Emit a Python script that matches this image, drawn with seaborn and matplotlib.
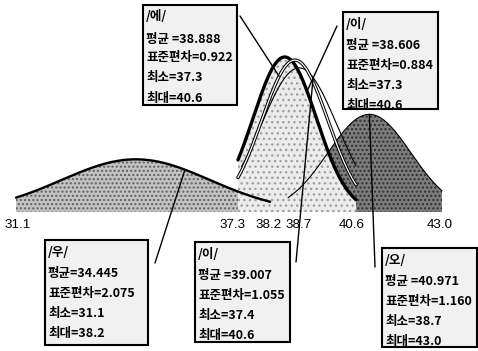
import numpy as np
import pandas as pd
import matplotlib
matplotlib.use("Agg")
import matplotlib.pyplot as plt
import seaborn as sns
from matplotlib.patches import Rectangle
from matplotlib import font_manager

# Vowel statistics (frequency values)
headers = ["/에/", "/이/", "/우/", "/이/", "/오/"]
keys = ["e", "i", "u", "eu", "o"]
means = [38.888, 38.606, 34.445, 39.007, 40.971]
sds = [0.922, 0.884, 2.075, 1.055, 1.160]
mins = [37.3, 37.3, 31.1, 37.4, 38.7]
maxs = [40.6, 40.6, 38.2, 40.6, 43.0]
peaks = [0.98, 1.0, 0.34, 0.93, 0.63]
tick_values = [31.1, 37.3, 38.2, 38.7, 40.6, 43.0]
tick_labels = ["31.1", "37.3", "38.2", "38.7", "40.6", "43.0"]

W, H = 478, 351
sns.set_theme(style="white")
plt.rcParams["font.family"] = ["Noto Sans CJK KR", "DejaVu Sans"]

installed = {f.name for f in font_manager.fontManager.ttflist}
num_family = ["Liberation Sans Narrow"] if "Liberation Sans Narrow" in installed else ["Liberation Sans"]

# Normal-shaped curve for each vowel, truncated at its min and max
rows = []
for k, m, s, lo, hi, pk in zip(keys, means, sds, mins, maxs, peaks):
    xs = np.linspace(lo, hi, 400)
    ys = pk * np.exp(-0.5 * ((xs - m) / s) ** 2)
    rows.append(pd.DataFrame({"vowel": k, "x": xs, "y": ys}))
df = pd.concat(rows, ignore_index=True)


def curve_y(k, x):
    i = keys.index(k)
    return peaks[i] * np.exp(-0.5 * ((x - means[i]) / sds[i]) ** 2)


fig = plt.figure(figsize=(W / 100, H / 100), dpi=100)
ax = fig.add_axes([0, 0, 1, 1])
px_per_unit = 35.8
x0 = 31.1 - 16 / px_per_unit
unit_px = 155.0


def fig_xy(px, py):
    return px / W, 1 - py / H


# Fills
fill_style = {
    "u": dict(facecolor="#c2c2c2", edgecolor="#5e5e5e", hatch="....", z=1),
    "o": dict(facecolor="#7c7c7c", edgecolor="#2e2e2e", hatch="....", z=2),
    "i": dict(facecolor="#ececec", edgecolor="#a0a0a0", hatch="...", z=3),
}
for k, st in fill_style.items():
    d = df[df.vowel == k]
    ax.fill_between(d.x, 0, d.y, facecolor=st["facecolor"], edgecolor=st["edgecolor"],
                    hatch=st["hatch"], linewidth=0, zorder=st["z"])

# Outlines
line_style = {
    "u": dict(color="black", lw=1.7, z=5),
    "o": dict(color="black", lw=0.8, z=5),
    "eu": dict(color="black", lw=0.8, z=5),
    "i": dict(color="black", lw=2.4, z=6),
}
for k, st in line_style.items():
    sns.lineplot(data=df[df.vowel == k], x="x", y="y", ax=ax, color=st["color"],
                 lw=st["lw"], sort=False, estimator=None, zorder=st["z"])
d_e = df[df.vowel == "e"]
sns.lineplot(data=d_e, x="x", y="y", ax=ax, color="black", lw=2.4,
             sort=False, estimator=None, zorder=7)
sns.lineplot(data=d_e, x="x", y="y", ax=ax, color="white", lw=0.9,
             sort=False, estimator=None, zorder=8)
ax.set_xlim(x0, x0 + W / px_per_unit)
ax.set_ylim(-(H - 212) / unit_px, 212 / unit_px)
ax.axis("off")

# Value labels along the base line
tick_dx = [2, -5, -2, 10, -4, -2]
for v, lab, dx in zip(tick_values, tick_labels, tick_dx):
    ax.annotate(lab, xy=(v, 0), xycoords="data", xytext=(dx, -13),
                textcoords="offset pixels", ha="center", va="center",
                fontsize=9.6, family=num_family + ["DejaVu Sans"],
                color="black", zorder=12)

# Statistic boxes with pointer lines
boxes = {
    "e": (143, 5, 237, 105),
    "i": (343, 12, 438, 109),
    "u": (45, 240, 148, 345),
    "eu": (195, 242, 290, 342),
    "o": (382, 248, 477, 347),
}
pointer_start = {
    "e": (240, 16),
    "i": (337, 26),
    "u": (155, 263),
    "eu": (296, 262),
    "o": (375, 267),
}
pointer_x = {"e": 38.45, "i": 39.23, "u": 35.82, "eu": 39.40, "o": 40.971}

for idx, k in enumerate(keys):
    bx0, by0, bx1, by1 = boxes[k]
    fx0, fy1 = fig_xy(bx0, by0)
    fx1, fy0 = fig_xy(bx1, by1)
    rect = Rectangle((fx0, fy0), fx1 - fx0, fy1 - fy0, transform=fig.transFigure,
                     facecolor="#f1f1f1", edgecolor="black", lw=1.5, zorder=10)
    fig.patches.append(rect)
    sep = "=" if k == "u" else " ="
    lines = [headers[idx],
             f"평균{sep}{means[idx]:.3f}",
             f"표준편차={sds[idx]:.3f}",
             f"최소={mins[idx]:.1f}",
             f"최대={maxs[idx]:.1f}"]
    offs = [12, 34, 53, 73, 93]
    for t, o in zip(lines, offs):
        tx, ty = fig_xy(bx0 + 3, by0 + o)
        fig.text(tx, ty, t, ha="left", va="center", fontsize=9.0,
                 fontweight="bold", color="black", zorder=11)
    px, py = pointer_x[k], curve_y(k, pointer_x[k])
    sx, sy = fig_xy(*pointer_start[k])
    ax.annotate("", xy=(px, py), xycoords="data", xytext=(sx, sy),
                textcoords="figure fraction",
                arrowprops=dict(arrowstyle="-", lw=1.0, color="black",
                                shrinkA=0, shrinkB=0), zorder=9)

fig.savefig("out.png", dpi=100)
